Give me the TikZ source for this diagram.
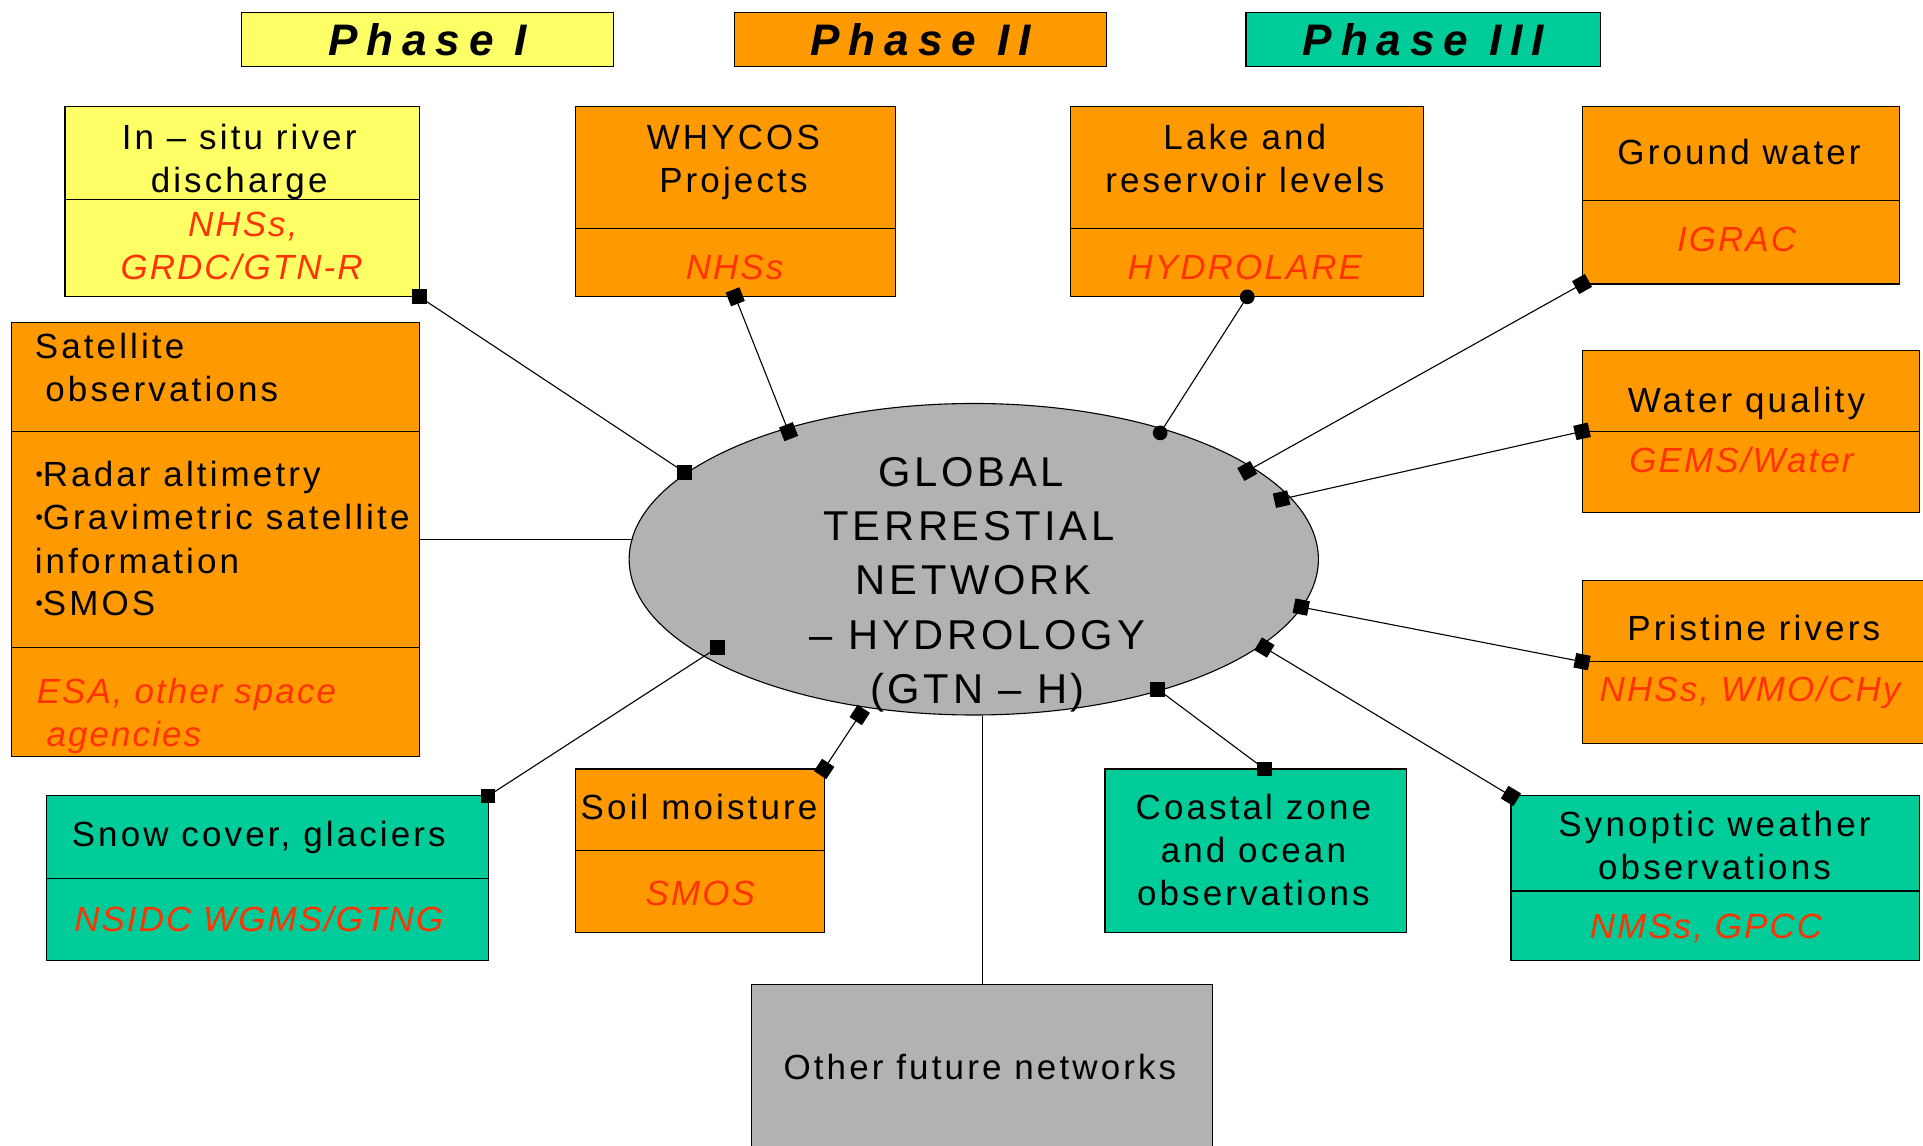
\documentclass[tikz,border=0pt]{standalone}
\usepackage{fontspec}
\setmainfont{Liberation Sans}
\newfontfamily\lsfont[LetterSpace=9]{Liberation Sans}
\newfontfamily\agfont[LetterSpace=6]{Liberation Sans}
\newfontfamily\phfont[LetterSpace=20]{Liberation Sans}
\usetikzlibrary{arrows.meta,shapes.geometric}
\definecolor{yel}{HTML}{FFFF66}
\definecolor{org}{HTML}{FF9900}
\definecolor{grn}{HTML}{00CC99}
\definecolor{gry}{HTML}{B2B2B2}
\definecolor{agc}{HTML}{FF3300}
\begin{document}
\begin{tikzpicture}[x=1pt,y=-1pt,
  cbox/.style={draw=black, line width=0.9pt, inner sep=0pt, outer sep=0pt, rectangle},
  txt/.style={anchor=base, inner sep=0pt, outer sep=0pt, font=\lsfont\fontsize{28.5}{34}\selectfont},
  ltxt/.style={txt, anchor=base west},
  ag/.style={txt, text=agc, font=\agfont\itshape\fontsize{28.5}{34}\selectfont},
  lag/.style={ag, anchor=base west},
  gt/.style={anchor=base, inner sep=0pt, outer sep=0pt, font=\lsfont\fontsize{34}{40}\selectfont},
  phase/.style={cbox, font=\phfont\bfseries\itshape\fontsize{36}{40}\selectfont},
  conn/.style={line width=0.9pt},
  rsq/.style={conn, {Square[length=12pt,width=12pt]}-{Square[length=12pt,width=12pt]}, shorten <=-6pt, shorten >=-6pt},
  rci/.style={conn, {Circle[length=12pt]}-{Circle[length=12pt]}, shorten <=-6pt, shorten >=-6pt},
  mk/.style={fill=black}
]
\useasboundingbox (0,0) rectangle (1568,934);

% phase headers
\node[phase, fill=yel, minimum width=303.5, minimum height=44.4] (ph1) at (348.75,32.2) {Phase I};
\node[phase, fill=org, minimum width=303.4, minimum height=44.4] (ph2) at (750.7,32.2) {Phase II};
\node[phase, fill=grn, minimum width=289, minimum height=44.4] (ph3) at (1160.5,32.2) {Phase III};

% boxes
\node[cbox, fill=yel, minimum width=289, minimum height=155] (insitu) at (197.5,164.5) {};
\node[cbox, fill=org, minimum width=261, minimum height=155] (whycos) at (599.5,164.5) {};
\node[cbox, fill=org, minimum width=288, minimum height=155] (lake) at (1017,164.5) {};
\node[cbox, fill=org, minimum width=259, minimum height=144.6] (ground) at (1419.5,159.3) {};
\node[cbox, fill=org, minimum width=332.5, minimum height=354] (sat) at (175.75,440) {};
\node[cbox, fill=org, minimum width=275, minimum height=132.5] (water) at (1427.5,351.75) {};
\node[cbox, fill=org, minimum width=280, minimum height=133] (pristine) at (1430,539.5) {};
\node[cbox, fill=grn, minimum width=360, minimum height=134] (snow) at (218,716) {};
\node[cbox, fill=org, minimum width=203, minimum height=133] (soil) at (570.5,693.5) {};
\node[cbox, fill=grn, minimum width=246, minimum height=133] (coastal) at (1024,693.5) {};
\node[cbox, fill=grn, minimum width=333, minimum height=134] (synoptic) at (1398.5,716) {};
\node[cbox, fill=gry, minimum width=376, minimum height=142] (other) at (801,874) {};

% central ellipse
\node[ellipse, draw=black, line width=0.9pt, fill=gry, minimum width=562, minimum height=254, inner sep=0pt] (gtn) at (794,456) {};

% dividers
\draw[conn] (insitu.west |- 0,163) -- (insitu.east |- 0,163);
\draw[conn] (whycos.west |- 0,186.5) -- (whycos.east |- 0,186.5);
\draw[conn] (lake.west |- 0,186.5) -- (lake.east |- 0,186.5);
\draw[conn] (ground.west |- 0,163.5) -- (ground.east |- 0,163.5);
\draw[conn] (sat.west |- 0,351.6) -- (sat.east |- 0,351.6);
\draw[conn] (sat.west |- 0,528) -- (sat.east |- 0,528);
\draw[conn] (water.west) -- (water.east);
\draw[conn] (pristine.west) -- (pristine.east);
\draw[conn] (snow.west) -- (snow.east);
\draw[conn] (soil.west) -- (soil.east);
\draw[conn] (synoptic.west |- 0,726.5) -- (synoptic.east |- 0,726.5);

% texts
\node[txt] (t1) at (195,122) {In – situ river};
\node[txt] (t2) at (195,157) {discharge};
\node[ag] (t3) at (198,193) {NHSs,};
\node[ag] (t4) at (197,228) {GRDC/GTN-R};

\node[txt] (t5) at (598,122) {WHYCOS};
\node[txt] (t6) at (598,157) {Projects};
\node[ag] (t7) at (599,228) {NHSs};

\node[txt] (t8) at (1015,122) {Lake and};
\node[txt] (t9) at (1015,157) {reservoir levels};
\node[ag] (t10) at (1015,228) {HYDROLARE};

\node[txt] (t11) at (1418,134.4) {Ground water};
\node[ag] (t12) at (1416,204.7) {IGRAC};

\node[ltxt] (t13) at (28.4,292) {Satellite};
\node[ltxt] (t14) at (37,327) {observations};
\node[ltxt] (t15) at (29,397) {\raisebox{4.5pt}{\fontsize{17}{17}\selectfont •}Radar altimetry};
\node[ltxt] (t16) at (29,432) {\raisebox{4.5pt}{\fontsize{17}{17}\selectfont •}Gravimetric satellite};
\node[ltxt] (t17) at (28.4,468) {information};
\node[ltxt] (t18) at (29,502) {\raisebox{4.5pt}{\fontsize{17}{17}\selectfont •}SMOS};
\node[lag] (t19) at (30,574) {ESA, other space};
\node[lag] (t20) at (38,609) {agencies};

\node[txt] (t21) at (1424,336.4) {Water quality};
\node[ag] (t22) at (1420,384.9) {GEMS/Water};

\node[txt] (t23) at (1430,522) {Pristine rivers};
\node[ag] (t24) at (1427,572) {NHSs, WMO/CHy};

\node[txt] (t25) at (211,690.4) {Snow cover, glaciers};
\node[ag] (t26) at (211,759.7) {NSIDC WGMS/GTNG};

\node[txt] (t27) at (570,668) {Soil moisture};
\node[ag] (t28) at (571,738.7) {SMOS};

\node[txt] (t29) at (1022,668) {Coastal zone};
\node[txt] (t30) at (1022,703) {and ocean};
\node[txt] (t31) at (1022,738.7) {observations};

\node[txt] (t32) at (1398,681.7) {Synoptic weather};
\node[txt] (t33) at (1398,716.8) {observations};
\node[ag] (t34) at (1391,765) {NMSs, GPCC};

\node[txt] (t35) at (799,880) {Other future networks};

\node[gt] (g1) at (792,397) {GLOBAL};
\node[gt] (g2) at (790,441) {TERRESTIAL};
\node[gt] (g3) at (794,485) {NETWORK};
\node[gt] (g4) at (797,529.5) {– HYDROLOGY};
\node[gt] (g5) at (797,573.5) {(GTN – H)};

% connector ends on the ellipse
\coordinate (eIn) at (558,385);
\coordinate (eWh) at (643,352);
\coordinate (eLa) at (946,353);
\coordinate (eGr) at (1017,384);
\coordinate (eWa) at (1045,407);
\coordinate (ePr) at (1061,495);
\coordinate (eSy) at (1031,528);
\coordinate (eCo) at (944,562);
\coordinate (eSo) at (701,583);
\coordinate (eSn) at (585,528);
\coordinate (cst) at (1031,627);

% connectors
\draw[conn] (insitu.south east) -- (eIn);
\fill[mk] (insitu.south east) +(-6,-6) rectangle +(6,6);
\fill[mk] (eIn) +(-6,-6) rectangle +(6,6);
\draw[rsq] (whycos.south) -- (eWh);
\draw[rci] (lake.south) -- (eLa);
\draw[rsq] (ground.south west) -- (eGr);
\draw[rsq] (water.west) -- (eWa);
\draw[conn] (sat.east) -- (sat.east -| gtn.176.5);
\draw[rsq] (pristine.west) -- (ePr);
\draw[rsq] (synoptic.north west) -- (eSy);
\draw[conn] (cst) -- (eCo);
\fill[mk] (cst) +(-6,-6) rectangle +(6,6);
\fill[mk] (eCo) +(-6,-6) rectangle +(6,6);
\draw[rsq] (soil.north east) -- (eSo);
\draw[conn] (snow.north east) -- (eSn);
\fill[mk] (snow.north east) +(-6,-6) rectangle +(6,6);
\fill[mk] (eSn) +(-6,-6) rectangle +(6,6);
\draw[conn] (other.north) -- (other.north |- gtn.south);
\end{tikzpicture}
\end{document}
